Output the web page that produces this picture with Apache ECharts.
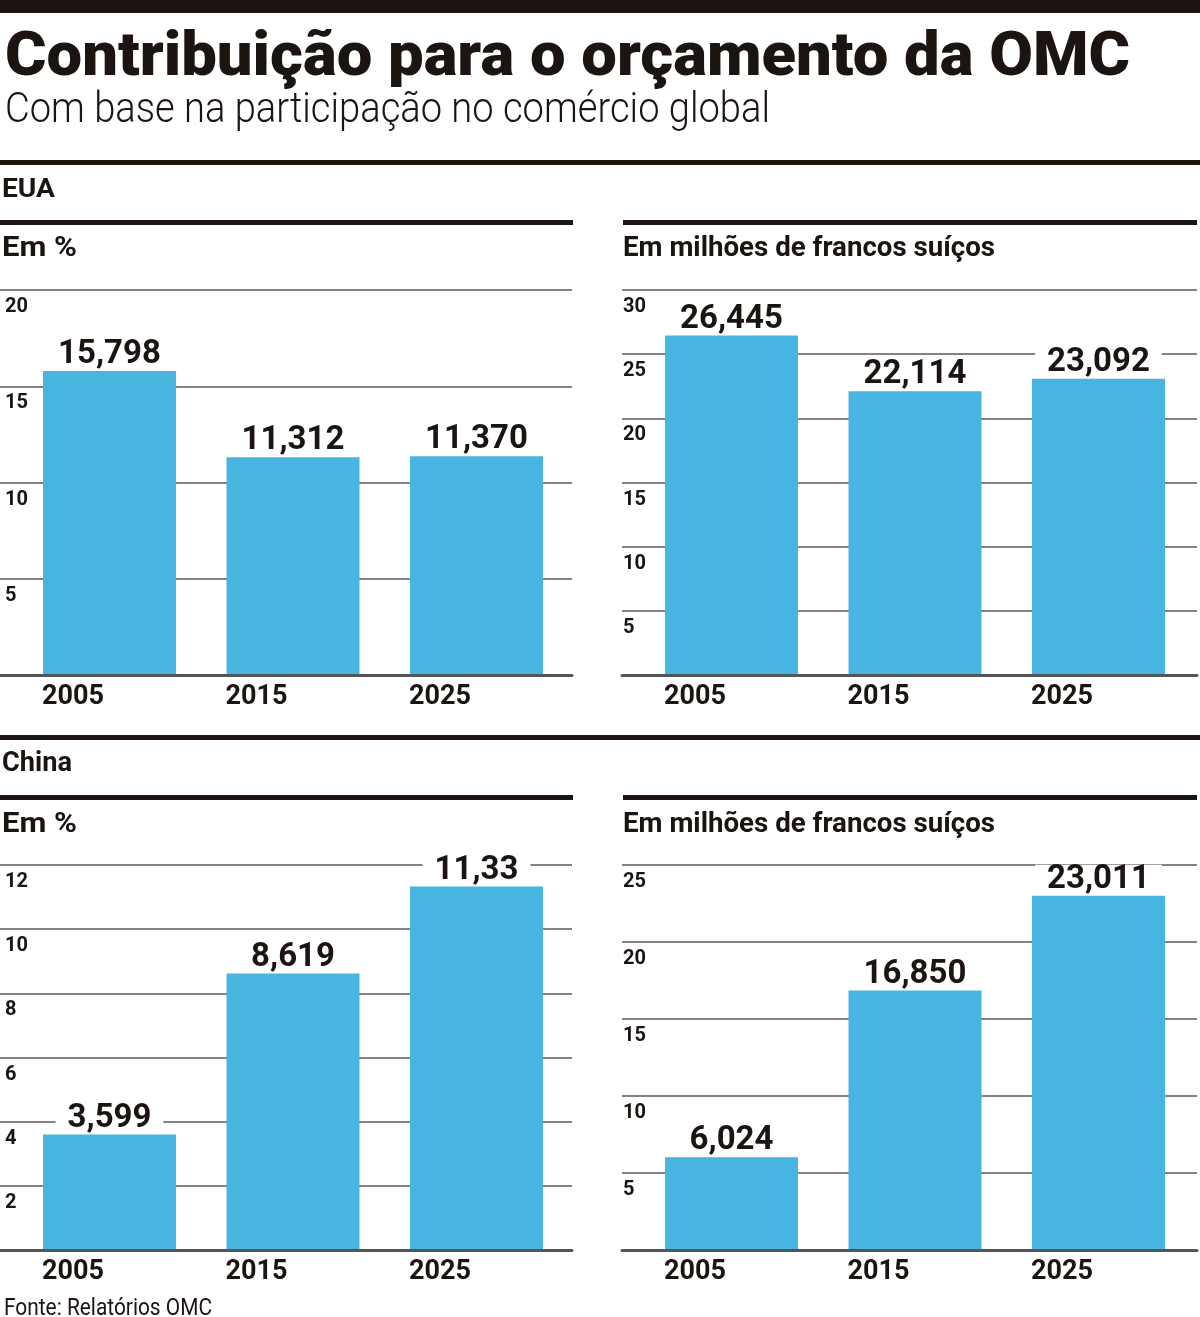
<!DOCTYPE html>
<html>
<head>
<meta charset="utf-8">
<script src="https://cdn.jsdelivr.net/npm/echarts@6/dist/echarts.min.js"></script>
<style>
html, body { margin: 0; padding: 0; background: #fff; }
#main { width: 1200px; height: 1317px; }
</style>
</head>
<body>
<div id="main"></div>
<script>
// dados
var years = ['2005', '2015', '2025'];

var euaPct = [15.798, 11.312, 11.370];
var euaPctLabels = ['15,798', '11,312', '11,370'];
var euaPctTicks = [0, 5, 10, 15, 20];

var euaChf = [26.445, 22.114, 23.092];
var euaChfLabels = ['26,445', '22,114', '23,092'];
var euaChfTicks = [0, 5, 10, 15, 20, 25, 30];

var chinaPct = [3.599, 8.619, 11.33];
var chinaPctLabels = ['3,599', '8,619', '11,33'];
var chinaPctTicks = [0, 2, 4, 6, 8, 10, 12];

var chinaChf = [6.024, 16.850, 23.011];
var chinaChfLabels = ['6,024', '16,850', '23,011'];
var chinaChfTicks = [0, 5, 10, 15, 20, 25];

var INK = '#1c1411';
var BLUE = '#47b5df';
var GRID = '#5a5a5a';
var FONT = 'Roboto';

// painéis: fundo (linhas de grade) e barras
var panels = [
  { data: euaPct, labels: euaPctLabels, ticks: euaPctTicks, x0: 0, x1: 572, bx: 17.75, top: 290, bottom: 675, lm: 5 },
  { data: euaChf, labels: euaChfLabels, ticks: euaChfTicks, x0: 622, x1: 1197, bx: 639.75, top: 290, bottom: 675, lm: 1 },
  { data: chinaPct, labels: chinaPctLabels, ticks: chinaPctTicks, x0: 0, x1: 572, bx: 17.75, top: 865, bottom: 1250, lm: 5 },
  { data: chinaChf, labels: chinaChfLabels, ticks: chinaChfTicks, x0: 622, x1: 1197, bx: 639.75, top: 865, bottom: 1250, lm: 1 }
];

var ctx = document.createElement('canvas').getContext('2d');
function fit(text, weight, size, width) {
  ctx.font = weight + ' ' + size + 'px ' + FONT;
  return width / ctx.measureText(text).width;
}
function heading(text, x, y, weight, size, width) {
  return {
    type: 'text', x: x, y: y, scaleX: fit(text, weight, size, width), silent: true,
    style: { text: text, fontFamily: FONT, fontWeight: weight, fontSize: size, fill: INK, align: 'left', verticalAlign: 'middle' }
  };
}
function rule(x, y, w, h) {
  return { type: 'rect', silent: true, shape: { x: x, y: y, width: w, height: h }, style: { fill: INK } };
}

var grid = [], xAxis = [], yAxis = [], series = [];
panels.forEach(function (p, i) {
  var min = p.ticks[0], max = p.ticks[p.ticks.length - 1], step = p.ticks[1] - p.ticks[0];
  // grade de fundo
  grid.push({ left: p.x0, top: p.top, width: p.x1 - p.x0, height: p.bottom - p.top });
  xAxis.push({
    gridIndex: 2 * i, type: 'value', min: 0, max: 1, z: 5,
    axisLine: { show: true, lineStyle: { color: '#555', width: 3 } },
    axisTick: { show: false }, axisLabel: { show: false }, splitLine: { show: false }
  });
  yAxis.push({
    gridIndex: 2 * i, type: 'value', min: min, max: max, interval: step,
    axisLine: { show: false }, axisTick: { show: false },
    splitLine: { show: true, lineStyle: { color: GRID, width: 1.5 } },
    axisLabel: {
      inside: true, margin: p.lm, align: 'left', verticalAlign: 'top', padding: [7, 0, 0, 0],
      showMinLabel: false, color: INK, fontFamily: FONT, fontWeight: 'bold', fontSize: 20
    }
  });
  // barras
  grid.push({ left: p.bx, top: p.top, width: 550.5, height: p.bottom - p.top });
  xAxis.push({
    gridIndex: 2 * i + 1, type: 'category', data: years,
    axisLine: { show: false }, axisTick: { show: false },
    axisLabel: {
      margin: 9, color: INK, fontFamily: FONT, fontWeight: 'bold', fontSize: 27,
      align: 'center', padding: [0, 73, 0, 0]
    }
  });
  yAxis.push({ gridIndex: 2 * i + 1, type: 'value', min: min, max: max, show: false });
  series.push({
    type: 'bar', xAxisIndex: 2 * i + 1, yAxisIndex: 2 * i + 1,
    data: p.data, barWidth: 133, itemStyle: { color: BLUE },
    label: {
      show: true, position: 'top', distance: 3,
      formatter: function (d) { return p.labels[d.dataIndex]; },
      color: INK, fontFamily: FONT, fontWeight: 'bold', fontSize: 33, lineHeight: 24,
      backgroundColor: '#fff', padding: [3, 12, 1, 12]
    }
  });
});

var graphic = [
  rule(0, 0, 1200, 13),
  heading('Contribuição para o orçamento da OMC', 5, 59, 900, 62, 1125),
  heading('Com base na participação no comércio global', 5, 111, 300, 42, 765),
  rule(0, 160, 1200, 5),
  heading('EUA', 2, 190, 'bold', 26, 53),
  rule(0, 220, 573, 5),
  rule(623, 220, 574, 5),
  heading('Em %', 2, 249, 'bold', 28, 75),
  heading('Em milhões de francos suíços', 623, 249, 'bold', 28, 372),
  rule(0, 735, 1200, 5),
  heading('China', 2, 764, 'bold', 28, 70),
  rule(0, 795, 573, 5),
  rule(623, 795, 574, 5),
  heading('Em %', 2, 825, 'bold', 28, 75),
  heading('Em milhões de francos suíços', 623, 825, 'bold', 28, 372),
  heading('Fonte: Relatórios OMC', 4, 1309, 'normal', 24, 208)
];

var chart = echarts.init(document.getElementById('main'), null, { renderer: 'canvas' });
chart.setOption({
  backgroundColor: '#fff',
  animation: false,
  grid: grid,
  xAxis: xAxis,
  yAxis: yAxis,
  series: series,
  graphic: graphic
});
</script>
</body>
</html>
